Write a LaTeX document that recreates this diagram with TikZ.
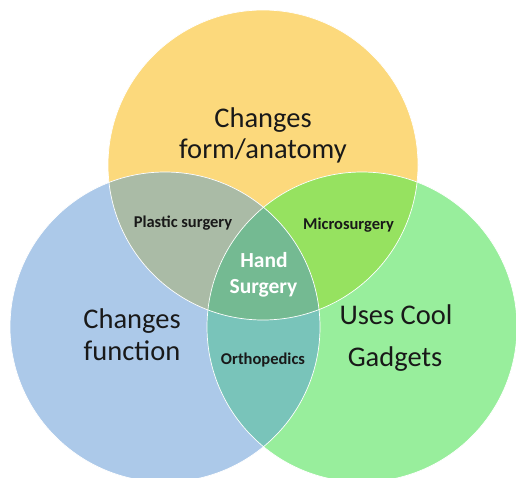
\documentclass[tikz,border=0pt]{standalone}
\usepackage{fontspec}
\setmainfont{Carlito}
\usepackage{xcolor}
\usepackage{tikz}
\usetikzlibrary{calc}

\definecolor{formyellow}{RGB}{252,217,124}
\definecolor{funcblue}{RGB}{172,201,233}
\definecolor{gadgetgreen}{RGB}{152,238,156}
\definecolor{plasticgray}{RGB}{170,187,166}
\definecolor{microgreen}{RGB}{150,226,96}
\definecolor{handgreen}{RGB}{116,186,146}
\definecolor{orthoteal}{RGB}{121,196,186}

\tikzset{
  bigtext/.style={font=\fontsize{28.5}{31}\selectfont, text=black!90, anchor=base},
  smalltext/.style={font=\bfseries\fontsize{16.5}{19}\selectfont, text=black!90, anchor=base},
  handtext/.style={font=\bfseries\fontsize{21.5}{26}\selectfont, text=white, anchor=base},
}

\begin{document}
\begin{tikzpicture}[x=1pt,y=-1pt]
            % page size
            \useasboundingbox (0,0) rectangle (516,477);
            \clip (0,0) rectangle (516,477);
            \fill[white] (0,0) rectangle (516,477);

            % circle centres
            \coordinate (form) at (263,165);
            \coordinate (func) at (165,327);
            \coordinate (gadget) at (362,327);

            % Draw circles
            \fill[formyellow] (form) circle (155pt);
            \fill[funcblue] (func) circle (155pt);
            \fill[gadgetgreen] (gadget) circle (155pt);

            % Overlaps
            \begin{scope}
              \clip (form) circle (155pt);
              \fill[plasticgray] (func) circle (155pt);
              \fill[microgreen] (gadget) circle (155pt);
            \end{scope}
            \begin{scope}
              \clip (func) circle (155pt);
              \fill[orthoteal] (gadget) circle (155pt);
            \end{scope}
            \begin{scope}
              \clip (form) circle (155pt);
              \clip (func) circle (155pt);
              \fill[handgreen] (gadget) circle (155pt);
            \end{scope}

            % thin white rims
            \foreach \c in {form,func,gadget} {
              \draw[white, line width=0.7pt] (\c) circle (155pt);
            }

            % % Add labels
            \node[bigtext] (formtop) at (263,127) {Changes};
            \node[bigtext] (formbot) at (263,158) {form/anatomy};
            \node[bigtext] (functop) at (132,328) {Changes};
            \node[bigtext] (funcbot) at (132,360) {function};
            \node[bigtext] (gadgettop) at (396,324) {Uses Cool};
            \node[bigtext] (gadgetbot) at (395,366) {Gadgets};

            \node[smalltext] (plastic) at (183,227) {Plastic surgery};
            \node[smalltext] (micro) at (348.5,229) {Microsurgery};
            \node[smalltext] (ortho) at (263,364) {Orthopedics};

            \node[handtext] (handtop) at (264,267) {Hand};
            \node[handtext] (handbot) at (263.5,293) {Surgery};
        \end{tikzpicture}
\end{document}
